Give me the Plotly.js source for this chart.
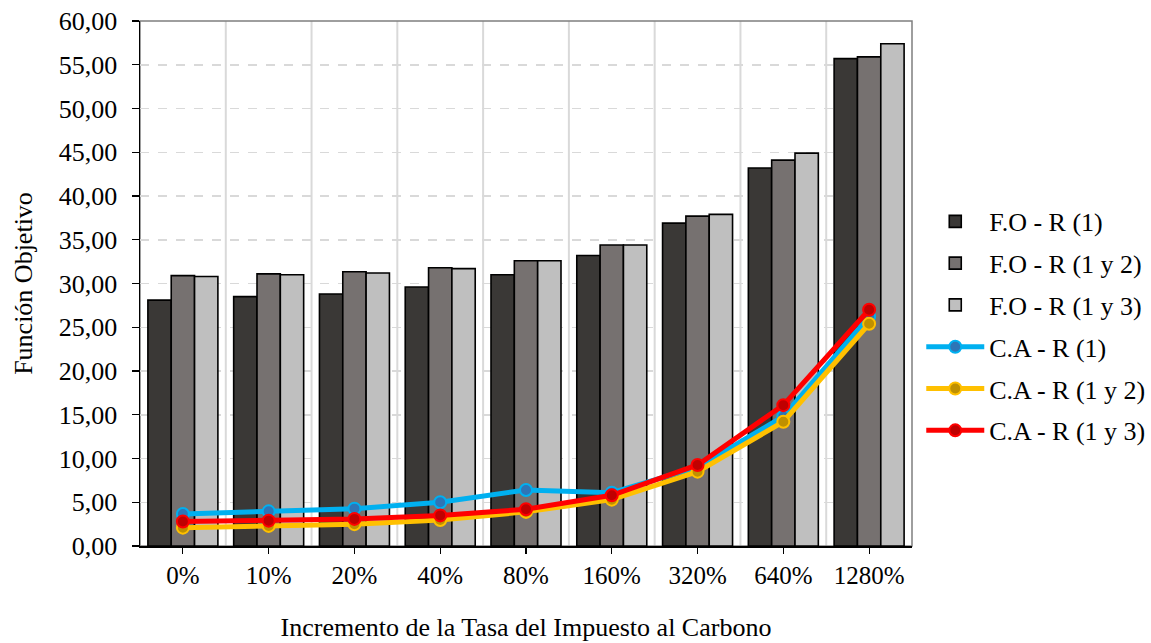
<!DOCTYPE html>
<html>
<head>
<meta charset="utf-8">
<script src="https://cdn.plot.ly/plotly-3.0.1.min.js"></script>
<style>
html,body{margin:0;padding:0;background:#fff;}
#chart{width:1151px;height:643px;}
</style>
</head>
<body>
<div id="chart"></div>
<script>
const categories = ['0%','10%','20%','40%','80%','160%','320%','640%','1280%'];
const foR1   = [28.1, 28.5, 28.8, 29.6, 31.0, 33.2, 36.9, 43.2, 55.7];
const foR12  = [30.9, 31.1, 31.35, 31.8, 32.6, 34.4, 37.7, 44.1, 55.9];
const foR13  = [30.8, 31.0, 31.2, 31.7, 32.6, 34.4, 37.9, 44.9, 57.4];
const caR1   = [3.66, 3.96, 4.27, 5.0, 6.4, 6.1, 9.0, 14.8, 26.2];
const caR12  = [2.1, 2.3, 2.5, 2.97, 3.9, 5.3, 8.5, 14.2, 25.4];
const caR13  = [2.8, 2.9, 3.1, 3.5, 4.2, 5.8, 9.26, 16.1, 27.0];
const yTicks = [0,5,10,15,20,25,30,35,40,45,50,55,60];

const FONT = 'Liberation Serif, Times New Roman, serif';

function barTrace(name, y, color, g){
  return {type:'bar', name:name, x:categories, y:y, legendgroup:g,
    marker:{color:color, line:{color:'#000', width:1.6}}};
}
function lineTrace(name, y, lineColor, markerColor, g){
  return {type:'scatter', mode:'lines+markers', name:name, x:categories, y:y, legendgroup:g,
    line:{color:lineColor, width:5},
    marker:{color:markerColor, size:12, line:{color:lineColor, width:2}}};
}

const data = [
  barTrace('F.O - R (1)', foR1, '#3a3836', 'a'),
  barTrace('F.O - R (1 y 2)', foR12, '#767170', 'b'),
  barTrace('F.O - R (1 y 3)', foR13, '#bfbfbf', 'c'),
  lineTrace('C.A - R (1)', caR1, '#00b0f0', '#2e75b6', 'd'),
  lineTrace('C.A - R (1 y 2)', caR12, '#ffc000', '#bf9000', 'e'),
  lineTrace('C.A - R (1 y 3)', caR13, '#ff0000', '#c00000', 'f')
];

const shapes = [];
for (let i = 1; i < categories.length; i++) {
  shapes.push({type:'line', xref:'x', yref:'paper', x0:i-0.5, x1:i-0.5, y0:0, y1:1,
    line:{color:'#d9d9d9', width:2}, layer:'below'});
}
shapes.push({type:'rect', xref:'paper', yref:'paper', x0:0, x1:1, y0:0, y1:1,
  line:{color:'#7f7f7f', width:1.5}, layer:'below'});

const layout = {
  width:1151, height:643,
  margin:{l:140, r:239, t:21, b:97, autoexpand:false},
  paper_bgcolor:'#fff', plot_bgcolor:'#fff',
  font:{family:FONT, size:26, color:'#000'},
  separators:',.',
  barmode:'group', bargap:0.184, bargroupgap:0,
  showlegend:true,
  legend:{x:1.012, xanchor:'left', y:0.663, yanchor:'top', tracegroupgap:5, itemwidth:58,
    font:{family:FONT, size:26, color:'#000'}, bgcolor:'rgba(0,0,0,0)'},
  xaxis:{type:'category', showgrid:false, showline:true, linecolor:'#000', linewidth:1.5,
    ticks:'outside', ticklen:6, tickcolor:'#000', tickwidth:1.2,
    tickfont:{family:FONT, size:25}, range:[-0.5, categories.length-0.5],
    title:{text:'Incremento de la Tasa del Impuesto al Carbono', font:{family:FONT, size:26}, standoff:30},
    zeroline:false},
  yaxis:{range:[0,60], tickvals:yTicks, tickformat:'.2f', showline:true, linecolor:'#000', linewidth:1.5,
    ticks:'outside', ticklen:7, tickcolor:'#000', tickwidth:1.2, ticklabelstandoff:9,
    showgrid:true, gridcolor:'#d9d9d9', gridwidth:1.5, griddash:'dash',
    tickfont:{family:FONT, size:26},
    title:{text:'Función Objetivo', font:{family:FONT, size:26}, standoff:18},
    zeroline:false},
  shapes:shapes
};

Plotly.newPlot('chart', data, layout, {displayModeBar:false, staticPlot:true});
</script>
</body>
</html>
